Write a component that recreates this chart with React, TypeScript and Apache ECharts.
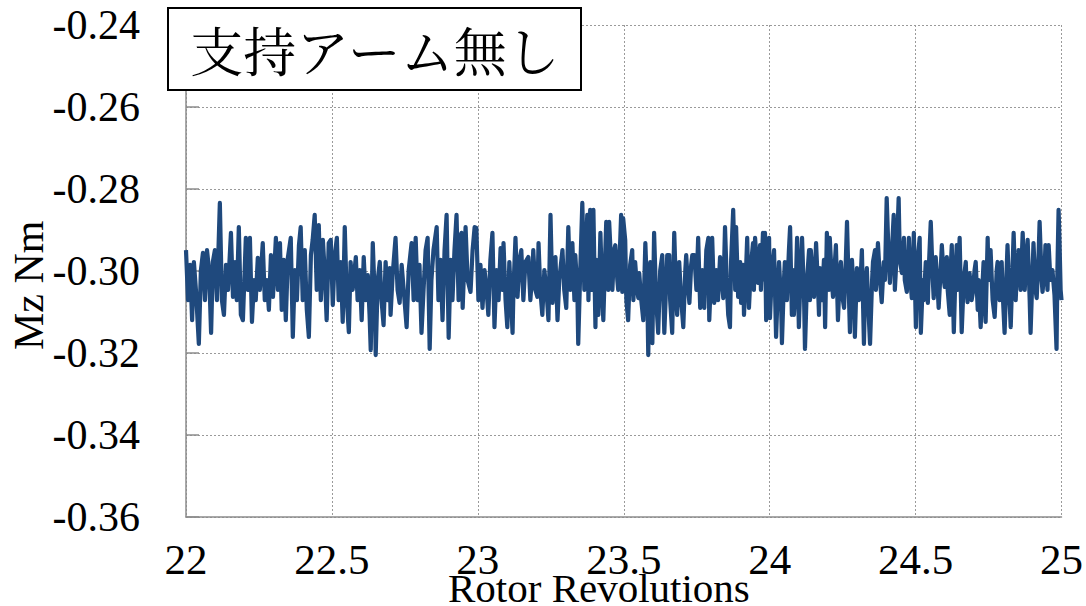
import React, { useEffect, useRef } from "react";
import * as echarts from "echarts";

const title = "支持アーム無し";
const xName = "Rotor Revolutions";
const yName = "Mz Nm";
const yTicks = [-0.36, -0.34, -0.32, -0.3, -0.28, -0.26, -0.24];
const xTicks = [22, 22.5, 23, 23.5, 24, 24.5, 25];

const revs = [
22.000,22.007,22.014,22.021,22.027,22.034,22.044,22.051,22.058,22.065,22.072,22.079,22.086,22.092,22.099,22.106,22.116,22.123,22.130,22.137,22.144,22.154,22.161,22.168,22.174,22.181,22.188,22.195,22.205,22.212,22.219,22.226,22.233,22.239,22.246,22.253,22.263,22.270,22.277,22.284,22.291,22.298,22.308,22.315,22.322,22.328,22.335,22.342,22.349,22.359,22.366,22.373,22.380,22.387,22.393,22.400,22.407,22.414,22.421,22.428,22.434,22.441,22.448,22.455,22.462,22.469,22.475,22.482,22.489,22.496,22.503,
22.510,22.517,22.523,22.530,22.537,22.544,22.551,22.558,22.564,22.571,22.582,22.588,22.595,22.602,22.609,22.616,22.623,22.629,22.633,22.640,22.647,22.650,22.657,22.664,22.670,22.677,22.684,22.691,22.698,22.701,22.708,22.718,22.725,22.732,22.739,22.746,22.756,22.763,22.773,22.780,22.787,22.794,22.800,22.807,22.814,22.821,22.828,22.835,22.841,22.848,22.859,22.865,22.872,22.879,22.886,22.893,22.900,22.907,22.913,22.920,22.927,22.934,22.937,22.944,22.948,22.954,22.958,22.965,22.975,22.982,22.989,22.995,23.002,
23.009,23.016,23.023,23.030,23.036,23.043,23.050,23.057,23.064,23.071,23.078,23.084,23.088,23.095,23.101,23.108,23.119,23.122,23.129,23.136,23.143,23.149,23.156,23.163,23.173,23.180,23.187,23.190,23.197,23.204,23.208,23.214,23.221,23.228,23.235,23.242,23.249,23.256,23.262,23.266,23.273,23.279,23.290,23.296,23.303,23.310,23.317,23.324,23.331,23.334,23.341,23.344,23.351,23.358,23.365,23.368,23.375,23.379,23.385,23.392,23.396,23.403,23.406,23.413,23.420,23.427,23.430,23.437,23.440,23.447,23.450,23.457,23.461,23.467,23.471,23.478,23.481,23.488,23.491,23.495,23.498,
23.505,23.509,23.515,23.522,23.529,23.533,23.539,23.546,23.550,23.553,23.560,23.567,23.574,23.581,23.584,23.587,23.591,23.598,23.604,23.611,23.618,23.625,23.632,23.639,23.646,23.649,23.656,23.659,23.666,23.673,23.680,23.683,23.690,23.697,23.704,23.711,23.714,23.721,23.725,23.731,23.735,23.742,23.749,23.755,23.762,23.769,23.776,23.783,23.790,23.793,23.800,23.803,23.810,23.817,23.823,23.830,23.841,23.847,23.854,23.858,23.864,23.868,23.875,23.882,23.885,23.892,23.899,23.902,23.909,23.912,23.919,23.923,23.929,23.936,23.943,23.946,23.950,23.957,23.960,23.967,23.970,23.977,23.981,23.984,23.988,23.994,23.998,
24.001,24.008,24.015,24.022,24.029,24.032,24.039,24.042,24.049,24.052,24.059,24.066,24.070,24.076,24.080,24.083,24.090,24.094,24.100,24.107,24.111,24.118,24.121,24.128,24.135,24.138,24.141,24.148,24.152,24.159,24.166,24.169,24.172,24.179,24.186,24.190,24.196,24.203,24.206,24.213,24.217,24.224,24.227,24.234,24.241,24.244,24.251,24.255,24.261,24.265,24.272,24.275,24.279,24.282,24.289,24.292,24.299,24.306,24.310,24.316,24.323,24.327,24.333,24.337,24.344,24.351,24.354,24.361,24.364,24.371,24.378,24.384,24.391,24.395,24.401,24.408,24.412,24.419,24.425,24.429,24.436,24.442,24.446,24.453,24.460,24.463,24.470,24.477,24.480,24.487,24.494,24.501,
24.507,24.514,24.518,24.525,24.528,24.535,24.542,24.545,24.552,24.559,24.562,24.569,24.576,24.579,24.586,24.590,24.597,24.600,24.607,24.610,24.617,24.620,24.624,24.631,24.637,24.641,24.644,24.651,24.658,24.665,24.672,24.675,24.678,24.685,24.692,24.696,24.702,24.706,24.713,24.716,24.723,24.730,24.733,24.740,24.747,24.750,24.757,24.764,24.771,24.778,24.781,24.788,24.795,24.798,24.805,24.812,24.815,24.822,24.826,24.832,24.836,24.843,24.846,24.853,24.860,24.867,24.874,24.877,24.884,24.891,24.894,24.901,24.904,24.911,24.915,24.921,24.925,24.932,24.935,24.942,24.945,24.952,24.956,24.962,24.969,24.976,24.983,24.986,24.990,24.993,24.997,25.000
];

const mz = [
-0.2949,-0.3071,-0.2985,-0.3120,-0.2978,-0.3046,-0.3178,-0.2998,-0.2956,-0.3071,-0.2949,-0.2998,-0.3151,-0.2978,-0.2949,-0.3071,-0.2834,-0.3071,-0.3107,-0.2985,-0.3046,-0.2907,-0.3063,-0.2978,-0.3071,-0.2893,-0.3107,-0.3120,-0.2919,-0.3046,-0.2919,-0.3124,-0.3022,-0.3071,-0.2968,-0.3046,-0.2932,-0.3071,-0.3022,-0.3095,-0.2961,-0.3063,-0.2919,-0.3046,-0.2932,-0.3095,-0.2973,-0.3120,-0.2968,-0.2919,-0.3161,-0.2998,-0.3071,-0.2937,-0.2893,-0.3071,-0.2949,-0.3095,-0.3161,-0.2961,-0.2924,-0.2863,-0.3046,-0.2888,-0.3071,-0.2924,-0.2998,-0.3120,-0.2932,-0.2924,-0.3083,
-0.2961,-0.2919,-0.3071,-0.2978,-0.3124,-0.2893,-0.3071,-0.3149,-0.2978,-0.3046,-0.2966,-0.3071,-0.2998,-0.3120,-0.2966,-0.3071,-0.3010,-0.3107,-0.3193,-0.2932,-0.3071,-0.3205,-0.3022,-0.2978,-0.3071,-0.3132,-0.2978,-0.3071,-0.2993,-0.3107,-0.3010,-0.2919,-0.3046,-0.3078,-0.2985,-0.3046,-0.3137,-0.2998,-0.2932,-0.3071,-0.2919,-0.3071,-0.2985,-0.3151,-0.3046,-0.2949,-0.2919,-0.3190,-0.3022,-0.2949,-0.2893,-0.3071,-0.2973,-0.3120,-0.2949,-0.2863,-0.3163,-0.2973,-0.3071,-0.2949,-0.2863,-0.3071,-0.2924,-0.2907,-0.3090,-0.2973,-0.2893,-0.3022,-0.3051,-0.2949,-0.2893,-0.2895,-0.3071,
-0.2985,-0.3090,-0.2998,-0.3046,-0.3107,-0.2973,-0.2907,-0.3137,-0.2998,-0.3071,-0.2944,-0.3046,-0.2932,-0.3071,-0.3137,-0.2978,-0.3151,-0.3046,-0.2919,-0.3063,-0.2973,-0.2949,-0.3071,-0.2978,-0.2966,-0.3071,-0.2998,-0.2949,-0.3046,-0.3063,-0.2932,-0.3046,-0.3107,-0.2998,-0.3046,-0.3120,-0.2863,-0.3078,-0.2998,-0.2966,-0.3120,-0.3022,-0.2949,-0.3046,-0.3090,-0.2893,-0.3046,-0.2932,-0.3071,-0.2961,-0.3046,-0.3178,-0.2998,-0.2834,-0.3046,-0.2985,-0.2863,-0.3071,-0.2851,-0.3046,-0.2851,-0.3137,-0.2973,-0.3107,-0.2907,-0.3071,-0.3120,-0.2949,-0.2880,-0.3046,-0.2880,-0.2985,-0.3046,-0.2949,-0.2937,-0.3022,-0.3046,-0.2924,-0.2863,-0.3051,-0.2871,
-0.2924,-0.3071,-0.3120,-0.2985,-0.2949,-0.3071,-0.2978,-0.3046,-0.3066,-0.3005,-0.3071,-0.3120,-0.2932,-0.3071,-0.3205,-0.3046,-0.2978,-0.3176,-0.2907,-0.3071,-0.3151,-0.2998,-0.2961,-0.3151,-0.3022,-0.2961,-0.2961,-0.3071,-0.3151,-0.2907,-0.3071,-0.3107,-0.2978,-0.3071,-0.3137,-0.2998,-0.2961,-0.3046,-0.3078,-0.2985,-0.2961,-0.2961,-0.3046,-0.2919,-0.3090,-0.2998,-0.3090,-0.2949,-0.2919,-0.3120,-0.2998,-0.2919,-0.3078,-0.2998,-0.3071,-0.2966,-0.3066,-0.2893,-0.3046,-0.3107,-0.3137,-0.2973,-0.2851,-0.3046,-0.2893,-0.3063,-0.2978,-0.3078,-0.2985,-0.3107,-0.2998,-0.2919,-0.3090,-0.2985,-0.2932,-0.3046,-0.2919,-0.2998,-0.3029,-0.2937,-0.3046,-0.2907,-0.3022,-0.2907,-0.3120,-0.2985,-0.2919,
-0.3115,-0.2998,-0.2949,-0.3161,-0.3022,-0.2978,-0.3071,-0.3176,-0.3022,-0.2978,-0.3071,-0.2949,-0.2893,-0.3107,-0.2998,-0.3107,-0.3022,-0.2919,-0.3137,-0.2985,-0.2919,-0.3071,-0.3190,-0.3022,-0.2949,-0.3071,-0.2949,-0.3022,-0.3063,-0.2932,-0.3046,-0.3107,-0.2993,-0.3071,-0.2973,-0.3137,-0.2907,-0.3046,-0.2919,-0.3022,-0.3063,-0.2973,-0.2937,-0.3120,-0.2998,-0.2978,-0.3071,-0.3090,-0.2973,-0.2880,-0.3071,-0.3149,-0.3022,-0.2973,-0.3071,-0.3161,-0.2993,-0.3071,-0.3046,-0.2949,-0.3178,-0.3046,-0.2993,-0.3071,-0.3178,-0.3022,-0.2978,-0.2949,-0.3046,-0.2932,-0.3022,-0.3076,-0.2978,-0.3022,-0.2822,-0.2973,-0.3029,-0.2949,-0.2863,-0.3046,-0.2949,-0.2822,-0.2973,-0.3005,-0.2919,-0.3022,-0.3051,-0.2919,-0.2998,-0.3066,-0.2907,-0.3137,
-0.2973,-0.2919,-0.3151,-0.3022,-0.3071,-0.2978,-0.3078,-0.2998,-0.2880,-0.3022,-0.3066,-0.2966,-0.3046,-0.3090,-0.2998,-0.2937,-0.3022,-0.3039,-0.2966,-0.3046,-0.3107,-0.2998,-0.2937,-0.3149,-0.2998,-0.2937,-0.3046,-0.2919,-0.3149,-0.3022,-0.2978,-0.3046,-0.3076,-0.3005,-0.3071,-0.3054,-0.2998,-0.2978,-0.3095,-0.3022,-0.3137,-0.3022,-0.2978,-0.3124,-0.2919,-0.3022,-0.2949,-0.3071,-0.3112,-0.2998,-0.2978,-0.3071,-0.2978,-0.3046,-0.3151,-0.2998,-0.2937,-0.3071,-0.3137,-0.2998,-0.2907,-0.3071,-0.3022,-0.2949,-0.3046,-0.2907,-0.3046,-0.2998,-0.2924,-0.3071,-0.3151,-0.2998,-0.2932,-0.3046,-0.3066,-0.2973,-0.2880,-0.3022,-0.3051,-0.2998,-0.2937,-0.3046,-0.2937,-0.3022,-0.2998,-0.3059,-0.3190,-0.2998,-0.2851,-0.2924,-0.3046,-0.3071
];

const serif = "'Liberation Serif', 'Times New Roman', serif";

export default function App() {
  const ref = useRef<HTMLDivElement>(null);
  useEffect(() => {
    if (!ref.current) return;
    const chart = echarts.init(ref.current, undefined, { renderer: "svg" });
    const n = Math.min(revs.length, mz.length);
    const data: number[][] = [];
    for (let i = 0; i < n; i++) data.push([revs[i], mz[i]]);
    chart.setOption({
      animation: false,
      backgroundColor: "#ffffff",
      grid: { left: 186, right: 23, top: 25, bottom: 89, containLabel: false },
      xAxis: {
        type: "value",
        min: xTicks[0],
        max: xTicks[xTicks.length - 1],
        interval: 0.5,
        axisLine: { show: true, lineStyle: { color: "#8c8c8c", width: 1.5 } },
        axisTick: { show: false },
        axisLabel: {
          color: "#000",
          fontFamily: serif,
          fontSize: 43,
          margin: 21,
          formatter: (v: number) => String(v),
        },
        splitLine: { show: true, lineStyle: { color: "#9a9a9a", type: [2, 2], width: 1 } },
      },
      yAxis: {
        type: "value",
        min: yTicks[0],
        max: yTicks[yTicks.length - 1],
        interval: 0.02,
        axisLine: { show: true, lineStyle: { color: "#8c8c8c", width: 1.5 } },
        axisTick: { show: true, inside: true, length: 13, lineStyle: { color: "#8c8c8c", width: 1.5 } },
        axisLabel: {
          color: "#000",
          fontFamily: serif,
          fontSize: 42,
          margin: 46,
          formatter: (v: number) => v.toFixed(2),
        },
        splitLine: { show: true, lineStyle: { color: "#9a9a9a", type: [2, 2], width: 1 } },
      },
      series: [
        {
          type: "line",
          data,
          showSymbol: false,
          symbol: "none",
          lineStyle: { color: "#1f497d", width: 4.2, join: "round" },
          z: 3,
        },
      ],
      graphic: [
        {
          type: "text",
          left: 448,
          top: 567,
          style: { text: xName, fontFamily: serif, fontSize: 41, fill: "#000" },
        },
        {
          type: "text",
          x: 8,
          y: 350,
          rotation: Math.PI / 2,
          style: { text: yName, fontFamily: serif, fontSize: 42, fill: "#000" },
        },
        {
          type: "rect",
          shape: { x: 168, y: 8, width: 413, height: 82 },
          style: { fill: "#ffffff", stroke: "#000", lineWidth: 2 },
          z: 100,
        },
        {
          type: "text",
          x: 375,
          y: 49,
          style: {
            text: title,
            fontFamily: "'Noto Serif CJK JP', 'Noto Sans CJK JP', sans-serif",
            fontSize: 53,
            fill: "#000",
            align: "center",
            verticalAlign: "middle",
          },
          z: 101,
        },
      ],
    });
    return () => chart.dispose();
  }, []);
  return (
    <div
      ref={ref}
      style={{ position: "absolute", left: 0, top: 0, width: 1086, height: 606 }}
    />
  );
}
